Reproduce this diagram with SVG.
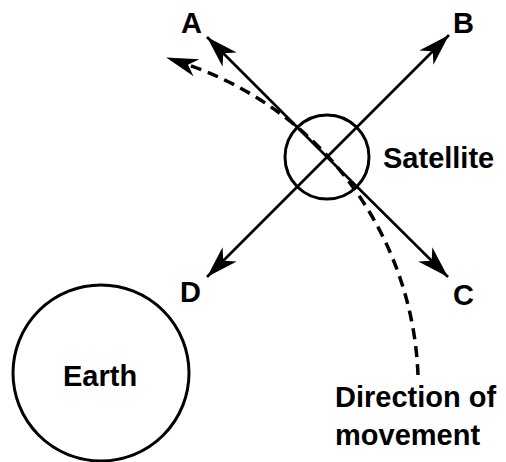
<svg xmlns="http://www.w3.org/2000/svg" width="506" height="462" viewBox="0 0 506 462">
<style>
.lbl{font-family:"Liberation Sans",Arial,sans-serif;font-weight:bold;font-size:29px;fill:#000}
.ring{fill:none;stroke:#000;stroke-width:3}
.arrow{fill:none;stroke:#000;stroke-width:2.6;marker-end:url(#head)}
.path{fill:none;stroke:#000;stroke-width:3.5;stroke-dasharray:11 7;marker-end:url(#head2)}
</style>
<defs>
<marker id="head" markerUnits="userSpaceOnUse" viewBox="-34 -11 36 22" refX="0" refY="0" markerWidth="36" markerHeight="22" orient="auto">
<path d="M0,0 L-32,-10 L-23,0 L-32,10 Z" fill="#000"/>
</marker>
<marker id="head2" markerUnits="userSpaceOnUse" viewBox="-12 -11 36 22" refX="0" refY="0" markerWidth="36" markerHeight="22" orient="auto">
<path d="M22,0 L-10,-9 L-1,0 L-10,9 Z" fill="#000"/>
</marker>
</defs>
<g id="earth">
<circle class="ring" cx="101" cy="373" r="88"/>
<text class="lbl" x="63" y="386">Earth</text>
</g>
<g id="satellite">
<circle class="ring" cx="327" cy="157" r="42"/>
<text class="lbl" x="383" y="168">Satellite</text>
</g>
<g id="A"><text class="lbl" x="181" y="33">A</text></g>
<g id="B"><text class="lbl" x="453" y="33">B</text></g>
<g id="C"><text class="lbl" x="453" y="305">C</text></g>
<g id="D"><text class="lbl" x="180" y="302">D</text></g>
<g id="direction">
<text class="lbl" x="335" y="407">Direction of</text>
<text class="lbl" x="335" y="445">movement</text>
</g>
<g id="connectors">
<line class="arrow" x1="327" y1="157" x2="207" y2="37"/>
<line class="arrow" x1="327" y1="157" x2="449" y2="35"/>
<line class="arrow" x1="327" y1="157" x2="448" y2="277"/>
<line class="arrow" x1="327" y1="157" x2="207" y2="277"/>
<path class="path" d="M418,375 A342,342 0 0 0 187,64.5"/>
</g>
</svg>
